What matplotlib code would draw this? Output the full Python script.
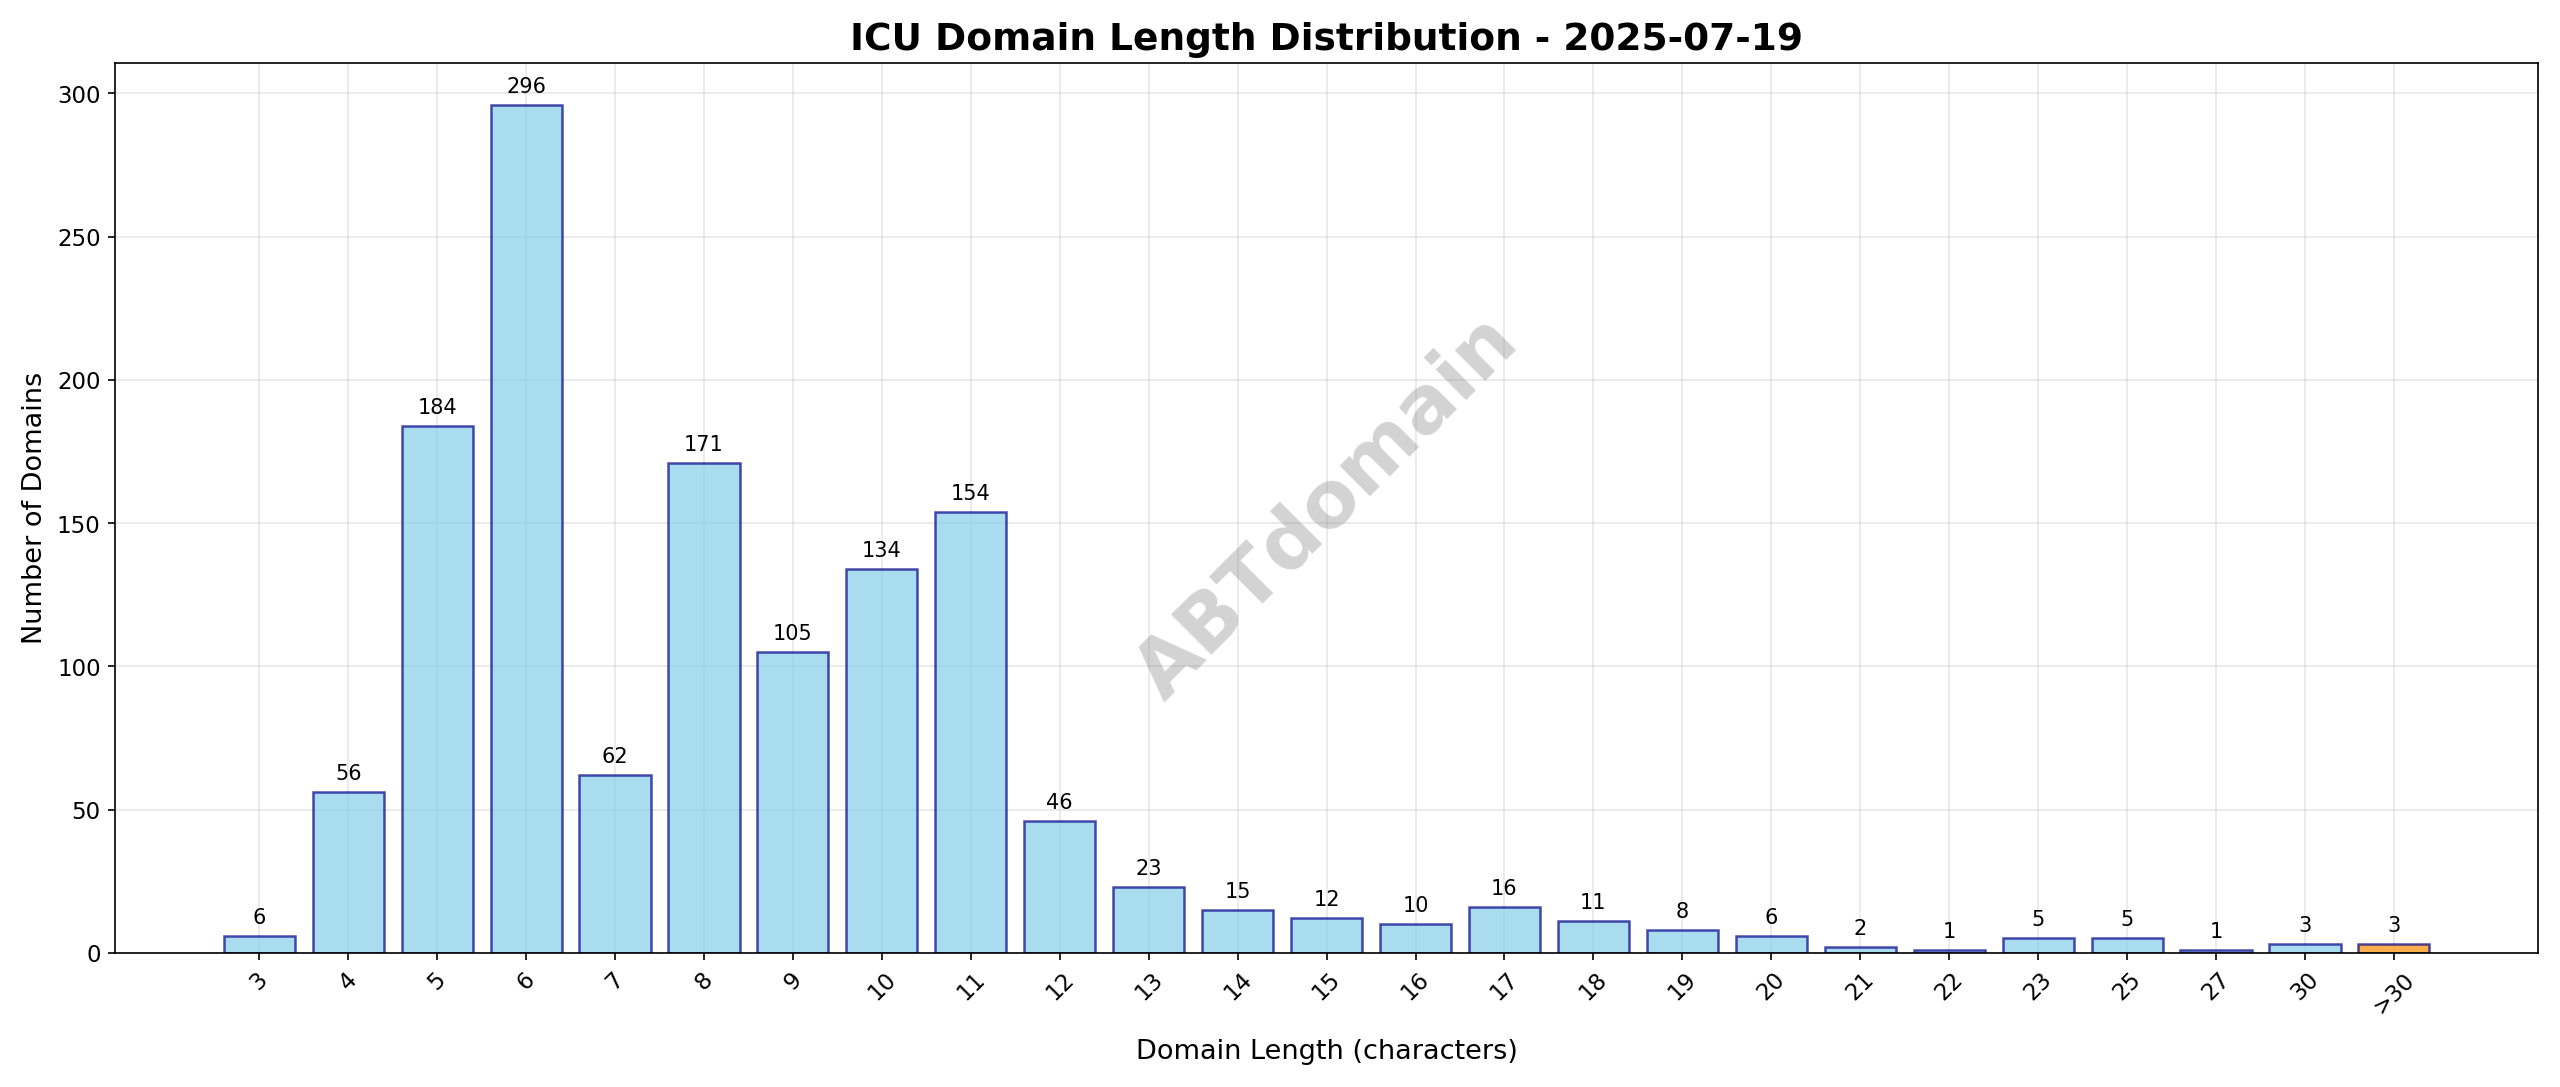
import matplotlib
matplotlib.use("Agg")
import matplotlib.pyplot as plt

lengths = ["3","4","5","6","7","8","9","10","11","12","13","14","15","16","17","18","19","20","21","22","23","25","27","30",">30"]
counts = [6,56,184,296,62,171,105,134,154,46,23,15,12,10,16,11,8,6,2,1,5,5,1,3,3]

fig, ax = plt.subplots(figsize=(17.07, 7.25), dpi=150)
colors = ["skyblue"] * (len(counts) - 1) + ["darkorange"]
x = range(len(counts))
bars = ax.bar(x, counts, color=colors, edgecolor="darkblue", alpha=0.7, linewidth=1.2)
for b, c in zip(bars, counts):
    ax.text(b.get_x() + b.get_width() / 2, c + 3, str(c), ha="center", va="bottom", fontsize=10)
ax.set_xticks(list(x))
ax.set_xticklabels(lengths, rotation=45, fontsize=11)
ax.tick_params(axis="y", labelsize=11)
ax.set_xlabel("Domain Length (characters)", fontsize=13, labelpad=10)
ax.set_ylabel("Number of Domains", fontsize=13)
ax.set_title("ICU Domain Length Distribution - 2025-07-19", fontsize=18, fontweight="bold")
ax.grid(True, alpha=0.3)
ax.set_axisbelow(True)
ax.set_xlim(-1.62, 25.62)
ax.set_ylim(0, 310.8)
ax.text(0.5, 0.5, "ABTdomain", transform=ax.transAxes, fontsize=38, color="gray", alpha=0.35,
        fontweight="bold", ha="center", va="center", rotation=45)
fig.tight_layout()
fig.savefig("out.png", dpi=150)
